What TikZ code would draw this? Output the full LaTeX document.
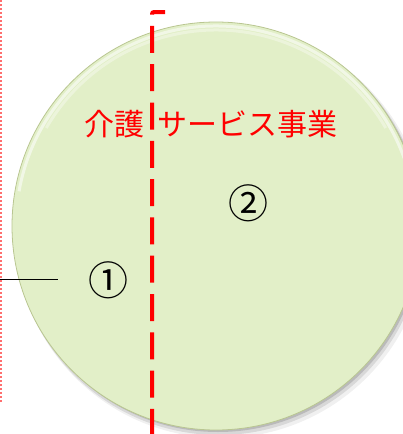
\documentclass[tikz,border=0pt]{standalone}
\usepackage{fontspec}
\newfontfamily\jp{Noto Sans CJK JP}
\usetikzlibrary{fadings}
\definecolor{disc}{RGB}{226,239,200}
\definecolor{rim}{RGB}{185,198,145}
\definecolor{pinkline}{RGB}{255,110,110}
\tikzset{
  label jp/.style={text=red, font=\jp\fontsize{30}{36}\selectfont, inner sep=0pt},
  num/.style={text=black, font=\jp\fontsize{40}{48}\selectfont, inner sep=0pt},
  divider/.style={red, line width=4pt, dash pattern=on 27pt off 11.3pt, dash phase=12.3pt, rounded corners=2pt},
  guide/.style={pinkline, line width=1.2pt, dash pattern=on 2pt off 2pt},
}
\begin{document}
\begin{tikzpicture}[x=1pt,y=-1pt]
\useasboundingbox (0,0) rectangle (403,434);
\clip (0,0) rectangle (403,434);
% disc shadow
\fill[black, opacity=0.06] (221,232) circle (206);
\fill[black, opacity=0.10] (219,230) circle (205);
\fill[black, opacity=0.14] (218,228) circle (204);
% disc
\fill[disc] (216,226) circle (204);
\draw[rim, line width=0.8pt] (216,226) circle (204);
\draw[white, opacity=0.55, line width=3pt] (216,226) ++(-170:200) arc (-170:-10:200);
\draw[white, opacity=0.35, line width=3pt] (216,226) ++(-150:196) arc (-150:-30:196);
% guide line on the left
\coordinate (g0) at (1,0);
\coordinate (g1) at (1,402);
\draw[guide] (g0) -- (g1);
% labels
\node[label jp] (t1) at (114,124) {介護};
\node[label jp] (t2) at (247,124) {サービス事業};
\node[num] (n1) at (108,280) {①};
\node[num] (n2) at (248,203) {②};
% black leader
\coordinate (la) at (0,279);
\coordinate (lb) at (58,279);
\draw[black, line width=0.9pt] (la) -- (lb);
% red divider
\coordinate (d0) at (165,12);
\coordinate (d1) at (152,12);
\coordinate (d2) at (152,434);
\draw[divider] (d0) -- (d1) -- (d2);
\end{tikzpicture}
\end{document}
